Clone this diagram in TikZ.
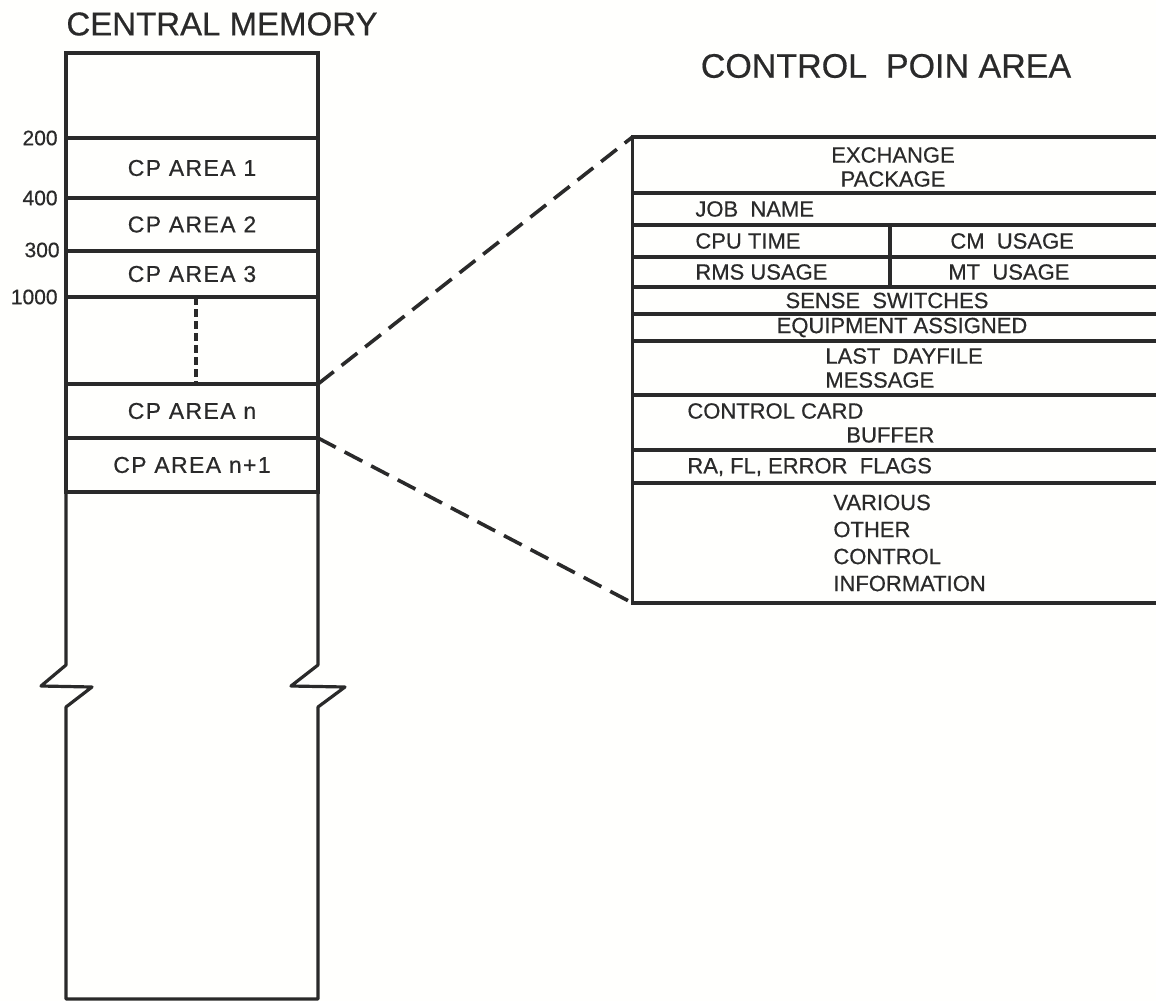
\documentclass[tikz,border=0pt]{standalone}
\usepackage{fontspec}
\setmainfont{Liberation Sans}[FakeBold=0.5]
\newfontfamily\wideface{Liberation Sans}[LetterSpace=6,FakeBold=0.5]
\usetikzlibrary{positioning}
\definecolor{ink}{HTML}{2A2A2A}
\definecolor{paper}{HTML}{FFFFFD}
\tikzset{
  every node/.style={font=\fontsize{11}{12}\selectfont,text=ink,inner sep=0pt},
  title/.style={font=\fontsize{16.5}{18}\selectfont},
  addr/.style={anchor=east,font=\fontsize{10.5}{12}\selectfont},
  memrow/.style={draw=ink,line width=1.6pt,outer sep=0pt,minimum width=126pt,font=\wideface\fontsize{11.5}{13}\selectfont},
  cpbox/.style={draw=ink,line width=1.6pt,outer sep=0pt,minimum width=274pt},
  rule/.style={draw=ink,line width=1.6pt},
  outline/.style={draw=ink,line width=1.6pt,line join=round},
  zoomline/.style={draw=ink,line width=1.8pt,dash pattern=on 10pt off 5pt},
  gapline/.style={draw=ink,line width=1.6pt,dash pattern=on 4pt off 2pt},
  entry/.style={anchor=west,align=left}
}
\begin{document}
\begin{tikzpicture}[x=0.5pt,y=-0.5pt]
  \clip (0,0) rectangle (1156,1001);
  \fill[paper] (0,0) rectangle (1156,1001);

  % central memory column
  \node[title] (cmtitle) at (222,24) {CENTRAL MEMORY};
  \node[memrow,minimum height=42.5pt] (cmtop) at (192,95.5) {};
  \node[memrow,minimum height=30pt] (cp1) at (192,168) {CP AREA 1};
  \node[memrow,minimum height=26.5pt] (cp2) at (192,224.5) {CP AREA 2};
  \node[memrow,minimum height=23pt] (cp3) at (192,274) {CP AREA 3};
  \node[memrow,minimum height=43.5pt] (cpgap) at (192,340.5) {};
  \node[memrow,minimum height=27pt] (cpn) at (192,411) {CP AREA n};
  \node[memrow,minimum height=27pt] (cpnext) at (192,465) {CP AREA n+1};
  \draw[gapline] ([xshift=2pt]cpgap.north) -- ([xshift=2pt]cpgap.south);
  \draw[outline] (cpnext.south west) -- (66,665) -- (41,686) -- (92,687) -- (66,707)
    -- (66,999) -- (318,999) -- (318,707) -- (345,687) -- (291,686) -- (318,665)
    -- (cpnext.south east);

  \node[addr] (a200) at (58,138) {200};
  \node[addr] (a400) at (58,198) {400};
  \node[addr] (a300) at (60,250) {300};
  \node[addr] (a1000) at (58,297) {1000};

  % control point area
  \node[title,font=\fontsize{17}{19}\selectfont] (cptitle) at (886,66) {CONTROL\ \ POIN AREA};
  \node[cpbox,minimum height=233pt] (cparea) at (906.5,370) {};
  \foreach \y in {193,225,257,287,314,341,395,450,483}
    \draw[rule] (633,\y) -- (1180,\y);
  \draw[rule] (890,225) -- (890,287);

  \node[align=center] (exch) at (893,167) {EXCHANGE\\PACKAGE};
  \node[entry] (jobname) at (695,209) {JOB\ \ NAME};
  \node[entry] (cputime) at (695,241) {CPU TIME};
  \node[entry] (cmusage) at (950,241) {CM\ \ USAGE};
  \node[entry] (rmsusage) at (695,272) {RMS USAGE};
  \node[entry] (mtusage) at (948,272) {MT\ \ USAGE};
  \node (sense) at (887,300.5) {SENSE\ \ SWITCHES};
  \node (equip) at (902,327.5) {EQUIPMENT ASSIGNED};
  \node[entry] (dayfile) at (825,368) {LAST\ \ DAYFILE\\MESSAGE};
  \node[entry] (ccard) at (687,411) {CONTROL CARD};
  \node[entry] (buffer) at (846,435) {BUFFER};
  \node[entry] (flags) at (687,467) {RA, FL, ERROR\ \ FLAGS};
  \node[entry,font=\fontsize{11}{13.5}\selectfont] (various) at (833,543) {VARIOUS\\OTHER\\CONTROL\\INFORMATION};

  % zoom lines
  \draw[zoomline] (cpn.north east) -- (cparea.north west);
  \draw[zoomline] (cpn.south east) -- (cparea.south west);
\end{tikzpicture}
\end{document}
